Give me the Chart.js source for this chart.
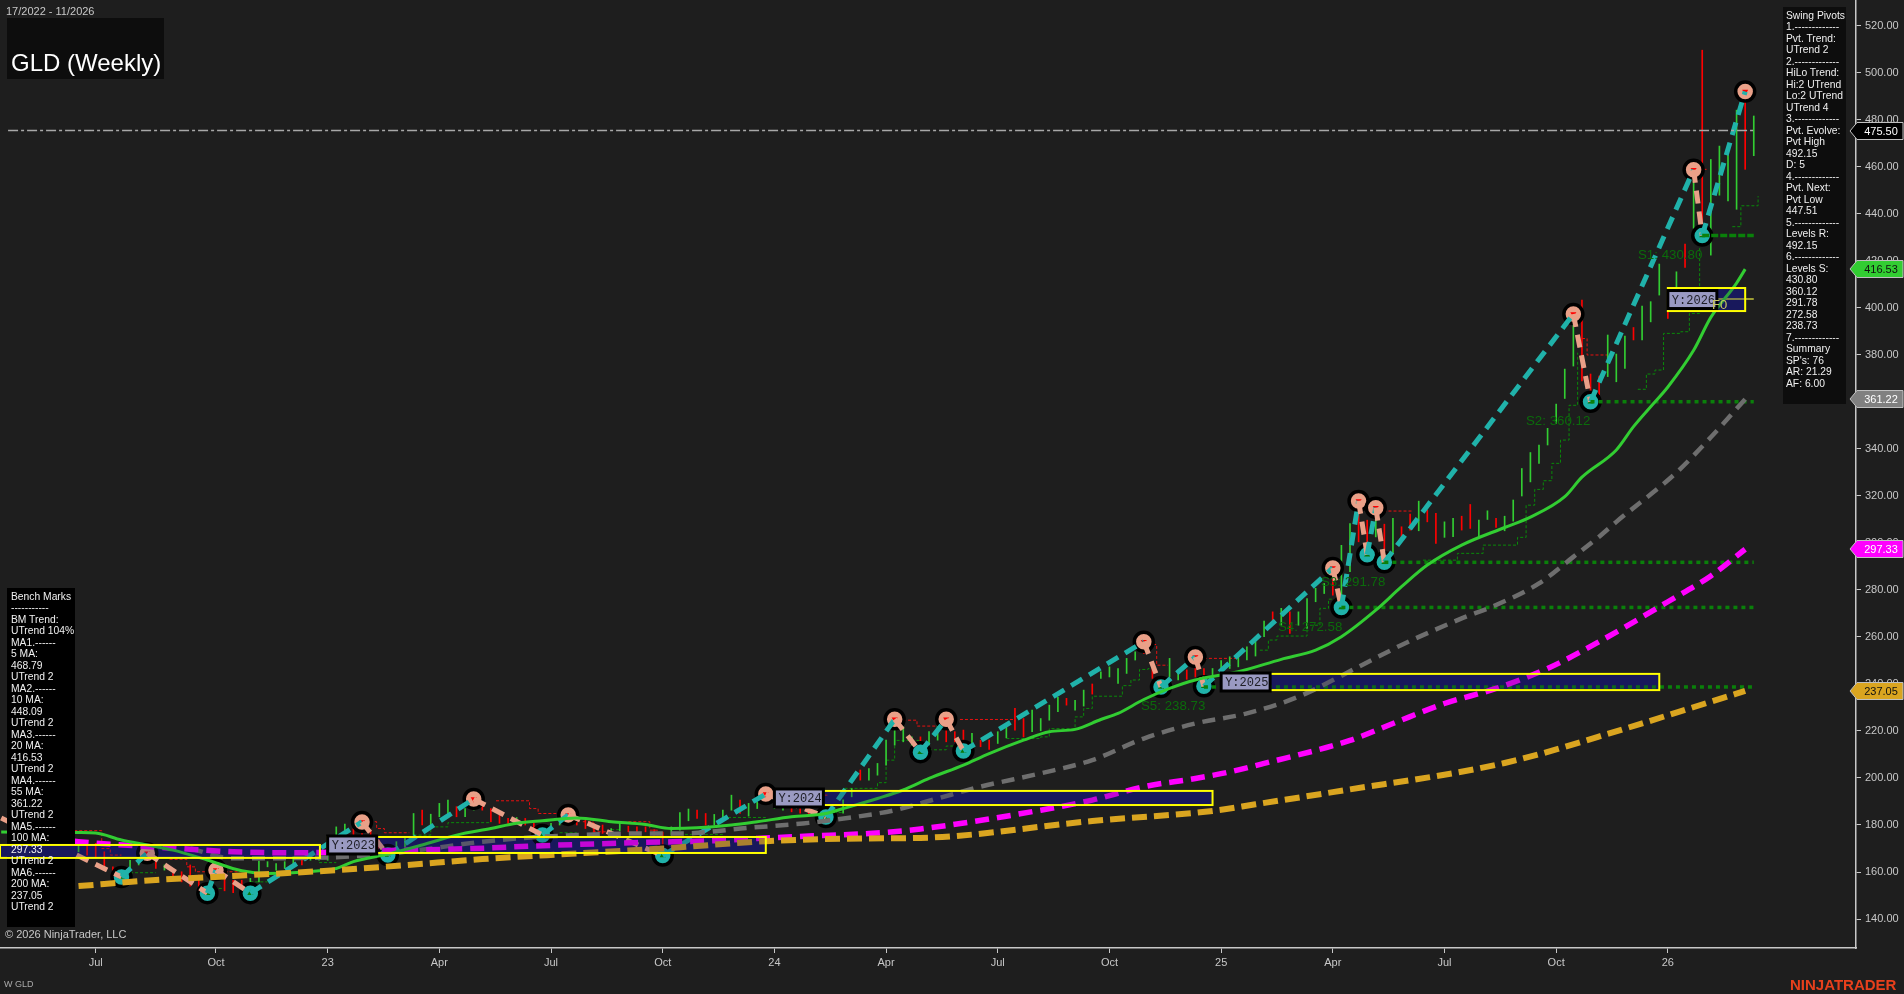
<!DOCTYPE html>
<html lang="en">
<head>
<meta charset="UTF-8">
<title>GLD (Weekly)</title>
<script src="https://cdn.jsdelivr.net/npm/chart.js@4/dist/chart.umd.min.js"></script>
<style>
    html, body { margin: 0; padding: 0; background: #1e1e1e; overflow: hidden; }
    #wrap { position: relative; width: 1904px; height: 994px; font-family: "Liberation Sans", Arial, sans-serif; }
    canvas { position: absolute; left: 0; top: 0; }
    .txt { position: absolute; color: #c8c8c8; font-size: 11px; white-space: pre; }
    .panel { position: absolute; color: #f0f0f0; font-size: 10.3px; line-height: 11.48px; white-space: pre; }
</style>
</head>
<body>
<div id="wrap">
    <canvas id="chart" width="1904" height="994"></canvas>
    <div class="txt" style="left:6px;top:5px">17/2022 - 11/2026</div>
    <div class="txt" style="left:11px;top:49px;font-size:24px;color:#fff">GLD (Weekly)</div>
    <div class="panel" id="benchText" style="left:11px;top:591px"></div>
    <div class="panel" id="swingText" style="left:1786px;top:10px"></div>
    <div class="txt" style="left:5px;top:928px">© 2026 NinjaTrader, LLC</div>
    <div class="txt" style="left:4px;top:979px;font-size:9px;color:#aaa">W GLD</div>
    <div class="txt" style="left:1790px;top:976px;font-size:15px;font-weight:bold;color:#e8401c">NINJATRADER</div>
</div>

<script>
// axes
const xTickWeeks = [0, 14, 27, 40, 53, 66, 79, 92, 105, 118, 131, 144, 157, 170, 183]
const xTickLabels = ['Jul', 'Oct', '23', 'Apr', 'Jul', 'Oct', '24', 'Apr', 'Jul', 'Oct', '25', 'Apr', 'Jul', 'Oct', '26']
const yTickValues = [140, 160, 180, 200, 220, 240, 260, 280, 300, 320, 340, 360, 380, 400, 420, 440, 460, 480, 500, 520]

// weekly bars, first one is week -3
const firstBarWeek = -3
const barLows = [
    170, 168.6, 167.2, 166.5, 162.2, 157.3, 155.1, 158.7, 163, 165,
    161.5, 160.8, 157.3, 155.8, 154, 153.7, 150.9, 157.3, 152, 151.2,
    152.3, 151.6, 155.8, 162.2, 160.8, 161.5, 163, 163, 165, 165,
    165, 174.3, 175.7, 175, 175.7, 174.3, 169.3, 165, 169.3, 170.7,
    175.7, 180, 180, 183.5, 183.8, 183.5, 183.5, 186.3, 186.3, 181.4,
    180.7, 180.7, 181, 180, 176.4, 175, 178, 180, 181.4, 180,
    178.5, 177.1, 176.4, 175, 177.5, 177.1, 177.1, 177.1, 175.7, 171.4,
    175.7, 177.8, 181.8, 182.8, 180, 180, 182.8, 186.3, 184.9, 183.8,
    187, 189, 187, 186.3, 185.6, 185, 184.2, 183, 181, 183.5,
    185, 192, 199.1, 199.1, 201.2, 205.5, 214, 215.4, 212.6, 210.4,
    214, 216.1, 215.4, 215.4, 215.4, 213.3, 213.3, 212.2, 214.7, 217.1,
    220.4, 217.5, 219.7, 220.1, 224.6, 228.2, 231, 228.9, 230.6, 235.7,
    242.4, 243, 240.2, 244.5, 250.2, 253, 242.4, 238.8, 243, 241.7,
    242, 243, 238.8, 241, 243, 246.6, 247.3, 250.2, 251.9, 260.1,
    265.8, 265, 261.5, 265, 263.6, 275, 278.5, 277.8, 274.3, 287.8,
    300.5, 296.3, 302.6, 292.7, 295.6, 301.2, 305.5, 305.2, 309, 299.8,
    302.4, 302.7, 305.5, 306.2, 302.4, 310, 306.6, 305.2, 309.3, 320,
    326, 333.9, 341.7, 350.9, 361.5, 375.3, 369, 362.3, 363, 370.8,
    368.6, 374.3, 386.4, 386.4, 394.1, 405.5, 395.6, 404, 417.3, 433.9,
    432.4, 422.5, 448, 445.6, 442, 459, 464.8
]
const barHighs = [
    174, 171.5, 172.9, 172.2, 168.6, 162.2, 161.5, 165, 167.2, 169.3,
    165, 163, 161.5, 160.1, 163, 158.7, 155.1, 163.6, 158.7, 156.5,
    156.5, 157.3, 164.6, 164.4, 163.6, 164.4, 166.5, 166.5, 167.2, 168,
    167.9, 179.2, 180.4, 178.5, 184.2, 177.8, 173.6, 171.5, 172.9, 174.3,
    184.9, 186.3, 184.6, 189.2, 190.6, 187.8, 187, 191.5, 189.2, 187,
    184.2, 182.8, 183.2, 182.8, 180.7, 179.2, 180.7, 183.5, 184.9, 183.5,
    182, 180.7, 180, 178.5, 180.7, 179.5, 179.2, 179.2, 178.1, 177,
    179.2, 185.3, 186.8, 186.3, 184.9, 184.5, 186.3, 192.7, 190.6, 189.2,
    190.6, 193, 190, 190, 187.8, 187, 186.3, 186, 186, 187,
    190.6, 195.5, 203.4, 204, 206.2, 216.1, 220.4, 221.8, 217.5, 217.5,
    219.7, 222.5, 221.1, 219.7, 220.4, 219, 216.1, 216.1, 219.7, 222.5,
    229.6, 225.3, 228.9, 225.3, 231, 234.3, 233.9, 233.1, 237.4, 240,
    245.2, 247.3, 246.6, 250.9, 253.7, 258.7, 248, 243, 250.9, 246,
    246, 251.5, 246.6, 246.6, 250, 251.6, 252.3, 255.8, 258, 266.8,
    270.7, 272.2, 270.7, 270.7, 276.4, 280.7, 282.8, 289.9, 299, 308.3,
    316.8, 309.7, 312.6, 308, 310.5, 306.9, 312.3, 317.8, 314, 312.6,
    309, 310.5, 311.4, 316.4, 309.7, 313.7, 310.5, 311.4, 318.3, 331.7,
    338.5, 341.7, 348.8, 359.1, 374, 395, 403.4, 371.9, 371, 388.5,
    380.4, 388, 391.7, 400.8, 402.7, 418.7, 404.8, 415.4, 427.2, 457.3,
    509.7, 463.2, 468.9, 465, 484.2, 491.3, 481.7
]
const barDirs = 'rgrrrrgggg' + 'rgrrrrrrrr' + 'rggggggrgg' + 'gggrrrrggg' + 'grgggrggrr' +
    'rrgrrggggr' + 'rrrggrrrrr' + 'gggrrgggrg' + 'ggggrrrggg' + 'ggrggggggr' +
    'ggrrrgrrgg' + 'rrggggrggr' + 'gggggrrrgg' + 'rrrggggggg' + 'rgrggggrgg' +
    'rrgrgrrgrr' + 'ggrrggrggg' + 'ggggggrrrg' + 'ggrgggrgrg' + 'rggggrg'

// moving averages
const ma20Weeks = [-11, -2, 0, 3, 6, 9, 13, 17, 20, 26, 28, 30, 34, 38, 42, 46, 49, 52, 56, 60, 64, 67, 70, 74, 77, 81, 85, 87, 91, 94, 97, 101, 104, 108, 111, 114, 117, 119, 122, 125, 128, 133, 138, 142, 145, 149, 152, 155, 159, 164, 167, 171, 173, 177, 179, 181, 183, 186, 188, 191, 192]
const ma20Prices = [177, 176.8, 176.6, 173.6, 171.5, 169.3, 165.1, 160.5, 159.4, 160.5, 161.5, 164.4, 167.6, 171.5, 175.7, 178.5, 180.7, 181.8, 183, 181.4, 180.2, 178.5, 178.8, 180, 181.4, 183.5, 184.9, 187, 191.3, 194.9, 199.8, 205.5, 210.4, 216.1, 219.7, 220.7, 224.9, 227.5, 233.4, 238.1, 241.7, 245.2, 250.5, 254.4, 260.1, 271.4, 281.4, 290.6, 299.1, 306.6, 311, 319.7, 328, 339.6, 349.5, 358, 366.4, 382, 396, 410.6, 416.53]
const ma55Weeks = [11, 16, 27, 36, 45, 52, 64, 68, 76, 83, 91, 93, 98, 103, 110, 116, 122, 128, 134, 140, 147, 152, 159, 163, 168, 172, 175, 177, 184, 188, 192]
const ma55Prices = [170, 165.8, 166.2, 168.6, 172.9, 175, 176.4, 176.4, 178.8, 180.9, 184.9, 186.3, 191.3, 196.3, 202, 207.6, 216.8, 223.2, 227.5, 234.6, 247.3, 256.6, 267.9, 273.6, 282.8, 294.1, 302.7, 309, 330, 345, 361.22]
const ma100Weeks = [-5, -2, 11, 16, 23, 36, 44, 52, 64, 72, 77, 83, 90, 96, 110, 116, 122, 128, 132, 136, 146, 151, 157, 163, 169, 175, 183, 188, 192]
const ma100Prices = [174, 172.9, 169.7, 168.6, 168.2, 169.3, 170, 171.2, 172.6, 173.3, 174.3, 175.3, 176.4, 178.3, 186.3, 190.6, 196.3, 199.8, 202.6, 206.2, 216, 223.2, 231.7, 238.1, 246.6, 258, 275, 286, 297.33]
const ma200Weeks = [-2, 7, 16, 28, 36, 45, 56, 66, 78, 90, 96, 116, 130, 135, 144, 164, 178, 185, 192]
const ma200Prices = [154, 156.6, 158.3, 160.8, 162.9, 165.5, 167.9, 170, 173.1, 174.3, 174.5, 181.7, 186, 188.8, 194, 206.4, 221, 229, 237.05]

// swing pivots, highs and lows take turns
const pivotWeeks = [-11, 3, 6, 13, 14, 18, 31, 34, 44, 52, 55, 66, 78, 85, 93, 96, 99, 101, 122, 124, 128, 129, 144, 145, 147, 148, 149, 150, 172, 174, 186, 187, 192]
const pivotPrices = [183, 157.9, 168, 151, 160.8, 151, 181.3, 167.2, 191.1, 175.7, 184.3, 167, 193.2, 183.4, 225, 211, 225, 211.5, 258, 238.73, 251.5, 239, 289.4, 272.58, 317.9, 295, 315, 291.78, 397.4, 360.12, 458.8, 430.8, 492.15]

// trailing steps, null breaks the line
const greenStepWeeks = [4, 7, 7, 12, 15, 15, 18, 20, 20, 26, 28, 28, 37, 39, 41, 46, 46, 54, 56, 56, 60, 61, 62, 62, 68, 73, 78, 78, 83, 87, 91, 92, 93, 96, 96, 97, 99, 101, 101, 106, 110, 111, 114, 115, 116, 119.5, 120.5, 121.5, 122.5, 123, 123, 135.5, 136.5, 137.5, 141, 142.5, 143.5, 145, 145, 148.7, 150, 150, 154.5, 158.5, 161.5, 165.5, 166.5, 167.5, 168.5, 169.5, 170.5, 171.5, 172.5, 172.5, 175.5, 179.5, 180.5, 181.5, 182.5, 184.5, 185.5, 186.7, 186.7, 188.5, 190.5, 191.5, 193.5]
const greenStepPrices = [159.7, 159.7, null, 153, 153, null, 155.8, 155.8, null, 164, 164, null, 175.7, 179.2, 181, 181.4, null, 176.7, 176.7, null, 178, 181, 181, null, 176, 183.2, 183.2, null, 185.3, 195.6, 198, 207.6, 216, 216, null, 212, 213.6, 213.6, null, 216.8, 217.5, 221, 226, 229.6, 234.8, 239.3, 241.7, 246.2, 246.6, 246.6, null, 254.4, 258.7, 260.4, 265, 272.2, 276.1, 276.1, null, 295.6, 295.6, null, 292.7, 295.6, 299.1, 302.4, 316.1, 322.8, 326.5, 333.9, 343.8, 358.6, 381, 381, null, 365.4, 371.9, 373.6, 389.2, 389.9, 397.7, 432.4, 432.4, null, 434.6, 443.5, 447.6, 447.6]
const redStepWeeks = [-2.5, -1.5, 0.7, 1.7, 3, 3, 8.6, 10.6, 11.6, 13, 13, 15, 16.8, 16.8, 31.9, 32.7, 33.6, 36.5, 36.5, 46.6, 49.5, 50.5, 51.5, 53.6, 53.6, 56.7, 57.9, 60, 60, 62, 64.5, 65.4, 66, 66, 79, 85.4, 85.4, 93.4, 95.6, 98.1, 98.1, 100.6, 105.4, 107, 107, 122.5, 123.5, 124.8, 124.8, 129, 132.8, 132.8, 143.6, 145, 145, 147.5, 148.9, 148.9, 149.9, 153.3, 153.3, 173, 173.6, 176, 176, 186, 187.5]
const redStepPrices = [177.6, 177.6, 170, 167.2, 167.2, null, 165.4, 162.2, 160.1, 160.1, null, 160.1, 160.1, null, 181.4, 178.5, 176.7, 176.7, null, 190.3, 190.3, 187, 184.9, 184.2, null, 181.4, 177.1, 177.1, null, 181.4, 177.8, 175.7, 175.7, null, 192.7, 192.7, null, 224.6, 222.1, 222.1, null, 224.9, 224.9, 224, null, 256.8, 248, 248, null, 250.9, 250.9, null, 287.1, 287.1, null, 314.3, 314.3, null, 313.6, 313.6, null, 387, 380, 380, null, 459, 459]

// swing levels
const levelNames = ['S1: 430.80', 'S2: 360.12', 'S3: 291.78', 'S4: 272.58', 'S5: 238.73']
const levelPrices = [430.8, 360.12, 291.78, 272.58, 238.73]
const levelStartWeeks = [187, 174, 150, 145, 129]
const levelLabelX = [1638, 1526, 1321, 1278, 1141]
const levelLabelY = [255, 421, 582, 627, 706]
const levelEndWeek = 193

// yearly boxes
const yearNames = ['', 'Y:2023', 'Y:2024', 'Y:2025', 'Y:2026']
const yearStartWeeks = [-11.14, 27, 79, 131, 183]
const yearEndWeeks = [26.1, 78, 130, 182, 192]
const yearHighs = [171.5, 174.9, 194.5, 244.3, 408.5]
const yearLows = [166, 168.1, 188.5, 237.4, 398.7]

// current values on the price axis
const lastPrice = 475.5
const tagPrices = [475.5, 416.53, 361.22, 297.33, 237.05]
const tagFills = ['#000000', '#32cd32', '#808080', '#ff00ff', '#daa520']
const tagColors = ['#ffffff', '#101010', '#ffffff', '#ffffff', '#101010']

const swingLines = ['Swing Pivots', '1.-------------', 'Pvt. Trend:', 'UTrend 2', '2.-------------', 'HiLo Trend:', 'Hi:2 UTrend', 'Lo:2 UTrend', 'UTrend 4', '3.-------------', 'Pvt. Evolve:', 'Pvt High', '492.15', 'D: 5', '4.-------------', 'Pvt. Next:', 'Pvt Low', '447.51', '5.-------------', 'Levels R:', '492.15', '6.-------------', 'Levels S:', '430.80', '360.12', '291.78', '272.58', '238.73', '7.-------------', 'Summary', "SP's: 76", 'AR: 21.29', 'AF: 6.00']
const benchLines = ['Bench Marks', '-----------', 'BM Trend:', 'UTrend 104%', 'MA1.------', '5 MA:', '468.79', 'UTrend 2', 'MA2.------', '10 MA:', '448.09', 'UTrend 2', 'MA3.------', '20 MA:', '416.53', 'UTrend 2', 'MA4.------', '55 MA:', '361.22', 'UTrend 2', 'MA5.------', '100 MA:', '297.33', 'UTrend 2', 'MA6.------', '200 MA:', '237.05', 'UTrend 2']

document.getElementById('swingText').textContent = swingLines.join('\n')
document.getElementById('benchText').textContent = benchLines.join('\n')

const zip = (xs, ys) => xs.map((x, i) => ({ x: x, y: ys[i] }))
const GREEN = '#32cd32', RED = '#ff0000', TEAL = '#20b2aa', SALMON = '#e9a088'

function maLine(weeks, prices, color, width, dash, order) {
    return {
        type: 'line', data: zip(weeks, prices), borderColor: color, borderWidth: width, borderDash: dash,
        pointRadius: 0, cubicInterpolationMode: 'monotone', order: order
    }
}

function stepLine(weeks, prices, color) {
    return {
        type: 'line', data: zip(weeks, prices), borderColor: color, borderWidth: 1, borderDash: [3, 2],
        pointRadius: 0, stepped: true, spanGaps: false, order: 10
    }
}

const datasets = [
    stepLine(greenStepWeeks, greenStepPrices, '#0a8a0a'),
    stepLine(redStepWeeks, redStepPrices, '#e81010'),
    {
        type: 'bar',
        data: barLows.map((lo, i) => ({ x: firstBarWeek + i, y: [lo, barHighs[i]] })),
        backgroundColor: barDirs.split('').map(d => d === 'g' ? GREEN : RED),
        barThickness: 1,
        order: 9
    },
    {
        type: 'line', data: zip(pivotWeeks, pivotPrices), showLine: false,
        pointRadius: ctx => ctx.dataIndex === 0 ? 0 : 9.5,
        pointBackgroundColor: ctx => ctx.dataIndex % 2 === 0 ? SALMON : TEAL,
        pointBorderColor: '#000', pointBorderWidth: 3.5, order: 8
    },
    {
        type: 'line', data: zip(pivotWeeks, pivotPrices), showLine: false,
        pointStyle: 'triangle',
        pointRadius: ctx => ctx.dataIndex === 0 ? 0 : 3.5,
        pointRotation: ctx => ctx.dataIndex % 2 === 0 ? 180 : 0,
        pointBackgroundColor: ctx => ctx.dataIndex % 2 === 0 ? RED : '#0a7a0a',
        pointBorderWidth: 0, order: 7
    },
    {
        type: 'line', data: zip(pivotWeeks, pivotPrices), borderWidth: 5, borderDash: [13, 8], pointRadius: 0,
        borderColor: TEAL,
        segment: { borderColor: ctx => ctx.p1.parsed.y > ctx.p0.parsed.y ? TEAL : SALMON },
        order: 6
    },
    {
        type: 'line', data: zip([-10.2, levelEndWeek], [lastPrice, lastPrice]), borderColor: '#a8a8a8',
        borderWidth: 1.5, borderDash: [10, 3, 3, 3], pointRadius: 0, order: 5
    },
    {
        type: 'line', data: zip([187, levelEndWeek], [403.8, 403.8]), borderColor: '#c8c83c',
        borderWidth: 1.5, pointRadius: 0, order: 5
    },
    maLine(ma55Weeks, ma55Prices, '#6e6e6e', 4.5, [13, 8], 4),
    maLine(ma100Weeks, ma100Prices, '#ff00ff', 5.5, [14, 8], 3),
    maLine(ma20Weeks, ma20Prices, GREEN, 3, [], 2),
    maLine(ma200Weeks, ma200Prices, '#daa520', 6, [15, 7], 1)
]

levelPrices.forEach((p, i) => {
    datasets.push({
        type: 'line', data: zip([levelStartWeeks[i], levelEndWeek], [p, p]), borderColor: '#0a800a',
        borderWidth: 3.5, borderDash: i === 0 ? [7, 2] : [4, 4], pointRadius: 0, order: 5
    })
})

function boxRect(chart, i) {
    const x = chart.scales.x, y = chart.scales.y
    const left = x.getPixelForValue(yearStartWeeks[i]), top = y.getPixelForValue(yearHighs[i])
    return { left: left, top: top, w: x.getPixelForValue(yearEndWeeks[i]) - left, h: y.getPixelForValue(yearLows[i]) - top }
}

// navy goes under the marks, a thin veil and the yellow frame go on top
const overlays = {
    id: 'overlays',
    beforeDatasetsDraw(chart) {
        const ctx = chart.ctx
        ctx.save()
        ctx.fillStyle = '#19195c'
        yearNames.forEach((n, i) => {
            const r = boxRect(chart, i)
            ctx.fillRect(r.left, r.top, r.w, r.h)
        })
        ctx.restore()
    },
    afterDatasetsDraw(chart) {
        const ctx = chart.ctx
        ctx.save()
        ctx.fillStyle = '#0d0d0d'
        ctx.fillRect(7, 18, 157, 61)
        ctx.fillRect(1783, 7, 63, 397)
        ctx.fillStyle = '#000'
        ctx.fillRect(7, 588, 68, 339)

        yearNames.forEach((name, i) => {
            const r = boxRect(chart, i)
            ctx.fillStyle = 'rgba(25,25,92,0.25)'
            ctx.fillRect(r.left, r.top, r.w, r.h)
            ctx.strokeStyle = '#ffff00'
            ctx.lineWidth = 2
            ctx.strokeRect(r.left, r.top, r.w, r.h)
            if (i === 0) {
                ctx.fillStyle = '#19195c'
                ctx.fillRect(7, r.top + 1, 68, r.h - 2)
                return
            }
            const mid = r.top + r.h / 2
            ctx.fillStyle = '#9a9ac2'
            ctx.fillRect(r.left, mid - 9, 49, 18)
            ctx.strokeStyle = '#000'
            ctx.lineWidth = 3
            ctx.strokeRect(r.left, mid - 9, 49, 18)
            ctx.fillStyle = '#202028'
            ctx.font = '12px "Liberation Mono", monospace'
            ctx.textAlign = 'left'
            ctx.textBaseline = 'middle'
            ctx.fillText(name, r.left + 4, mid + 1)
        })

        ctx.fillStyle = '#0b6b0b'
        ctx.font = '13.3px "Liberation Sans", Arial, sans-serif'
        ctx.textAlign = 'left'
        ctx.textBaseline = 'middle'
        levelNames.forEach((n, i) => ctx.fillText(n, levelLabelX[i], levelLabelY[i]))
        ctx.fillStyle = '#c8c860'
        ctx.font = '13px "Liberation Sans", Arial, sans-serif'
        ctx.fillText('F0', 1712, 305)
        ctx.restore()
    },
    afterDraw(chart) {
        const ctx = chart.ctx, y = chart.scales.y
        ctx.save()
        ctx.font = '11px "Liberation Sans", Arial, sans-serif'
        ctx.textAlign = 'center'
        ctx.textBaseline = 'middle'
        tagPrices.forEach((p, i) => {
            const py = Math.round(y.getPixelForValue(p))
            ctx.beginPath()
            ctx.moveTo(1850, py)
            ctx.lineTo(1857, py - 8.5)
            ctx.lineTo(1903, py - 8.5)
            ctx.lineTo(1903, py + 8.5)
            ctx.lineTo(1857, py + 8.5)
            ctx.closePath()
            ctx.fillStyle = tagFills[i]
            ctx.fill()
            ctx.strokeStyle = '#c0c0c0'
            ctx.lineWidth = 1
            ctx.stroke()
            ctx.fillStyle = tagColors[i]
            ctx.fillText(p.toFixed(2), 1881, py + 1)
        })
        ctx.restore()
    }
}

new Chart('chart', {
    type: 'bar',
    data: { datasets: datasets },
    plugins: [overlays],
    options: {
        responsive: false,
        animation: false,
        events: [],
        // the plot runs to the canvas edge, no room wanted for the pivot markers
        layout: { padding: 0, autoPadding: false },
        plugins: { legend: { display: false }, tooltip: { enabled: false } },
        scales: {
            x: {
                type: 'linear', min: -11.14, max: 204.9, offset: false,
                grid: { drawOnChartArea: false, drawTicks: true, tickLength: 5, tickColor: '#c8c8c8', offset: false },
                border: { color: '#c8c8c8', width: 1.5 },
                afterBuildTicks: s => { s.ticks = xTickWeeks.map(v => ({ value: v })) },
                afterFit: s => { s.height = 46 },
                ticks: {
                    color: '#c8c8c8', font: { family: '"Liberation Sans", Arial, sans-serif', size: 11 },
                    padding: 3, maxRotation: 0, autoSkip: false,
                    callback: v => xTickLabels[xTickWeeks.indexOf(v)]
                }
            },
            y: {
                type: 'linear', position: 'right', min: 127.66, max: 531.06,
                grid: { drawOnChartArea: false, drawTicks: true, tickLength: 5, tickColor: '#c8c8c8' },
                border: { color: '#c8c8c8', width: 1.5 },
                afterBuildTicks: s => { s.ticks = yTickValues.map(v => ({ value: v })) },
                // no half-label gap above the 520 tick
                afterFit: s => { s.width = 48; s.paddingTop = 0; s.paddingBottom = 0 },
                ticks: {
                    color: '#c8c8c8', font: { family: '"Liberation Sans", Arial, sans-serif', size: 11 },
                    padding: 4, autoSkip: false,
                    callback: v => v.toFixed(2)
                }
            }
        }
    }
})
</script>
</body>
</html>
